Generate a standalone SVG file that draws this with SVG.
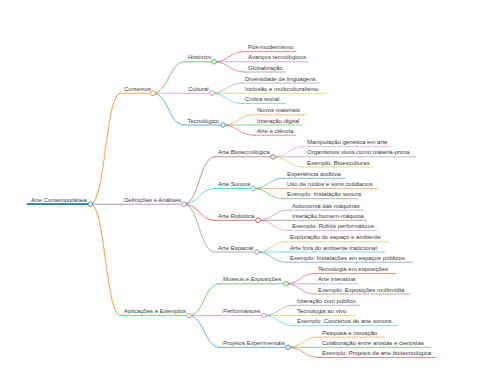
<svg xmlns="http://www.w3.org/2000/svg" width="480" height="384" viewBox="0 0 480 384">
<style>
text{font-family:"Liberation Sans",Arial,sans-serif;font-size:6px;fill:#3a3a3a}
path,line{fill:none;stroke-linecap:round;stroke-opacity:0.7}
.d0{stroke-width:1.8;stroke-opacity:1}.d1{stroke-width:1.1}.d2{stroke-width:0.9}.d3{stroke-width:0.75}
circle{fill:#fff;stroke-width:0.9;stroke-opacity:0.85}
.c0{stroke:#1f77b4}.c1{stroke:#ff7f0e}.c2{stroke:#2ca02c}.c3{stroke:#d62728}.c4{stroke:#9467bd}
.c5{stroke:#8c564b}.c6{stroke:#e377c2}.c7{stroke:#7f7f7f}.c8{stroke:#bcbd22}.c9{stroke:#17becf}
</style>
<rect width="480" height="384" fill="#fff"/>
<g id="connectors">
<path class="d1 c1" d="M90.5,204.2 C105.5,204.2 105.5,93.3 120.5,93.3"/>
<path class="d1 c4" d="M90.5,204.2 L120.5,204.2"/>
<path class="d1 c1" d="M90.5,204.2 C105.5,204.2 105.5,315.5 120.5,315.5"/>
<path class="d2 c2" d="M153,93.3 C168.75,93.3 168.75,61.8 184.5,61.8"/>
<path class="d2 c6" d="M153,93.3 L184.5,93.3"/>
<path class="d2 c0" d="M153,93.3 C168.5,93.3 168.5,125 184,125"/>
<path class="d2 c5" d="M184,204.2 C199.25,204.2 199.25,156.8 214.5,156.8"/>
<path class="d2 c9" d="M184,204.2 C199.25,204.2 199.25,188.5 214.5,188.5"/>
<path class="d2 c3" d="M184,204.2 C199.25,204.2 199.25,220.3 214.5,220.3"/>
<path class="d2 c7" d="M184,204.2 C199.25,204.2 199.25,252 214.5,252"/>
<path class="d2 c2" d="M189,315.5 C204.25,315.5 204.25,283.8 219.5,283.8"/>
<path class="d2 c6" d="M189,315.5 L219.5,315.5"/>
<path class="d2 c0" d="M189,315.5 C204.25,315.5 204.25,347.3 219.5,347.3"/>
<path class="d3 c3" d="M214,61.8 C229.25,61.8 229.25,51.6 244.5,51.6"/>
<path class="d3 c4" d="M214,61.8 L244.5,61.8"/>
<path class="d3 c5" d="M214,61.8 C229.25,61.8 229.25,72 244.5,72"/>
<path class="d3 c7" d="M212,93.3 C226.75,93.3 226.75,83.1 241.5,83.1"/>
<path class="d3 c8" d="M212,93.3 L241.5,93.3"/>
<path class="d3 c9" d="M212,93.3 C226.75,93.3 226.75,103.5 241.5,103.5"/>
<path class="d3 c1" d="M223,125 C238.25,125 238.25,114.8 253.5,114.8"/>
<path class="d3 c2" d="M223,125 L253.5,125"/>
<path class="d3 c3" d="M223,125 C238.25,125 238.25,135.2 253.5,135.2"/>
<path class="d3 c6" d="M273,156.8 C288.25,156.8 288.25,146.6 303.5,146.6"/>
<path class="d3 c7" d="M273,156.8 L303.5,156.8"/>
<path class="d3 c8" d="M273,156.8 C288.25,156.8 288.25,167 303.5,167"/>
<path class="d3 c0" d="M253,188.5 C268.25,188.5 268.25,178.3 283.5,178.3"/>
<path class="d3 c1" d="M253,188.5 L283.5,188.5"/>
<path class="d3 c2" d="M253,188.5 C268.25,188.5 268.25,198.7 283.5,198.7"/>
<path class="d3 c4" d="M258,220.3 C273.25,220.3 273.25,210.1 288.5,210.1"/>
<path class="d3 c5" d="M258,220.3 L288.5,220.3"/>
<path class="d3 c6" d="M258,220.3 C273.25,220.3 273.25,230.5 288.5,230.5"/>
<path class="d3 c8" d="M257,252 C271.75,252 271.75,241.8 286.5,241.8"/>
<path class="d3 c9" d="M257,252 L286.5,252"/>
<path class="d3 c0" d="M257,252 C271.75,252 271.75,262.2 286.5,262.2"/>
<path class="d3 c3" d="M286,283.8 C300.25,283.8 300.25,273.6 314.5,273.6"/>
<path class="d3 c4" d="M286,283.8 L314.5,283.8"/>
<path class="d3 c5" d="M286,283.8 C300.25,283.8 300.25,294 314.5,294"/>
<path class="d3 c7" d="M264,315.5 C278.75,315.5 278.75,305.3 293.5,305.3"/>
<path class="d3 c8" d="M264,315.5 L293.5,315.5"/>
<path class="d3 c9" d="M264,315.5 C278.75,315.5 278.75,325.7 293.5,325.7"/>
<path class="d3 c1" d="M288,347.3 C303.25,347.3 303.25,337.1 318.5,337.1"/>
<path class="d3 c2" d="M288,347.3 L318.5,347.3"/>
<path class="d3 c3" d="M288,347.3 C303.25,347.3 303.25,357.5 318.5,357.5"/>
</g>
<g id="node-root"><line class="d0 c0" x1="27.5" y1="204.2" x2="90.5" y2="204.2"/><text x="31" y="201.7">Arte Contemporânea</text><circle class="c0" cx="90.5" cy="204.2" r="2.3"/></g>
<g id="node-contextos"><line class="d1 c1" x1="120.5" y1="93.3" x2="153" y2="93.3"/><text x="124" y="90.8">Contextos</text><circle class="c1" cx="153" cy="93.3" r="2.3"/></g>
<g id="node-definicoes"><line class="d1 c4" x1="120.5" y1="204.2" x2="184" y2="204.2"/><text x="124" y="201.7">Definições e Análises</text><circle class="c4" cx="184" cy="204.2" r="2.3"/></g>
<g id="node-aplicacoes"><line class="d1 c1" x1="120.5" y1="315.5" x2="189" y2="315.5"/><text x="124" y="313">Aplicações e Exemplos</text><circle class="c1" cx="189" cy="315.5" r="2.3"/></g>
<g id="node-historico"><line class="d2 c2" x1="184.5" y1="61.8" x2="214" y2="61.8"/><text x="188" y="59.3">Histórico</text><circle class="c2" cx="214" cy="61.8" r="2.3"/></g>
<g id="node-cultural"><line class="d2 c6" x1="184.5" y1="93.3" x2="212" y2="93.3"/><text x="188" y="90.8">Cultural</text><circle class="c6" cx="212" cy="93.3" r="2.3"/></g>
<g id="node-tecnologico"><line class="d2 c0" x1="184" y1="125" x2="223" y2="125"/><text x="187.5" y="122.5">Tecnológico</text><circle class="c0" cx="223" cy="125" r="2.3"/></g>
<g id="node-biotec"><line class="d2 c5" x1="214.5" y1="156.8" x2="273" y2="156.8"/><text x="218" y="154.3">Arte Biotecnológica</text><circle class="c5" cx="273" cy="156.8" r="2.3"/></g>
<g id="node-sonora"><line class="d2 c9" x1="214.5" y1="188.5" x2="253" y2="188.5"/><text x="218" y="186">Arte Sonora</text><circle class="c9" cx="253" cy="188.5" r="2.3"/></g>
<g id="node-robotica"><line class="d2 c3" x1="214.5" y1="220.3" x2="258" y2="220.3"/><text x="218" y="217.8">Arte Robótica</text><circle class="c3" cx="258" cy="220.3" r="2.3"/></g>
<g id="node-espacial"><line class="d2 c7" x1="214.5" y1="252" x2="257" y2="252"/><text x="218" y="249.5">Arte Espacial</text><circle class="c7" cx="257" cy="252" r="2.3"/></g>
<g id="node-museus"><line class="d2 c2" x1="219.5" y1="283.8" x2="286" y2="283.8"/><text x="223" y="281.3">Museus e Exposições</text><circle class="c2" cx="286" cy="283.8" r="2.3"/></g>
<g id="node-performances"><line class="d2 c6" x1="219.5" y1="315.5" x2="264" y2="315.5"/><text x="223" y="313">Performances</text><circle class="c6" cx="264" cy="315.5" r="2.3"/></g>
<g id="node-projetos"><line class="d2 c0" x1="219.5" y1="347.3" x2="288" y2="347.3"/><text x="223" y="344.8">Projetos Experimentais</text><circle class="c0" cx="288" cy="347.3" r="2.3"/></g>
<g id="leaf-1"><line class="d3 c3" x1="244.5" y1="51.6" x2="296" y2="51.6"/><text x="248" y="49.1">Pós-modernismo</text></g>
<g id="leaf-2"><line class="d3 c4" x1="244.5" y1="61.8" x2="308" y2="61.8"/><text x="248" y="59.3">Avanços tecnológicos</text></g>
<g id="leaf-3"><line class="d3 c5" x1="244.5" y1="72" x2="285" y2="72"/><text x="248" y="69.5">Globalização</text></g>
<g id="leaf-4"><line class="d3 c7" x1="241.5" y1="83.1" x2="320" y2="83.1"/><text x="245" y="80.6">Diversidade de linguagens</text></g>
<g id="leaf-5"><line class="d3 c8" x1="241.5" y1="93.3" x2="326" y2="93.3"/><text x="245" y="90.8">Inclusão e multiculturalismo</text></g>
<g id="leaf-6"><line class="d3 c9" x1="241.5" y1="103.5" x2="286" y2="103.5"/><text x="245" y="101">Crítica social</text></g>
<g id="leaf-7"><line class="d3 c1" x1="253.5" y1="114.8" x2="306" y2="114.8"/><text x="257" y="112.3">Novos materiais</text></g>
<g id="leaf-8"><line class="d3 c2" x1="253.5" y1="125" x2="302" y2="125"/><text x="257" y="122.5">Interação digital</text></g>
<g id="leaf-9"><line class="d3 c3" x1="253.5" y1="135.2" x2="296" y2="135.2"/><text x="257" y="132.7">Arte e ciência</text></g>
<g id="leaf-10"><line class="d3 c6" x1="303.5" y1="146.6" x2="391" y2="146.6"/><text x="307" y="144.1">Manipulação genética em arte</text></g>
<g id="leaf-11"><line class="d3 c7" x1="303.5" y1="156.8" x2="416" y2="156.8"/><text x="307" y="154.3">Organismos vivos como matéria-prima</text></g>
<g id="leaf-12"><line class="d3 c8" x1="303.5" y1="167" x2="373" y2="167"/><text x="307" y="164.5">Exemplo: Bioesculturas</text></g>
<g id="leaf-13"><line class="d3 c0" x1="283.5" y1="178.3" x2="345" y2="178.3"/><text x="287" y="175.8">Experiência auditiva</text></g>
<g id="leaf-14"><line class="d3 c1" x1="283.5" y1="188.5" x2="378" y2="188.5"/><text x="287" y="186">Uso de ruídos e sons cotidianos</text></g>
<g id="leaf-15"><line class="d3 c2" x1="283.5" y1="198.7" x2="358" y2="198.7"/><text x="287" y="196.2">Exemplo: Instalação sonora</text></g>
<g id="leaf-16"><line class="d3 c4" x1="288.5" y1="210.1" x2="363" y2="210.1"/><text x="292" y="207.6">Autonomia das máquinas</text></g>
<g id="leaf-17"><line class="d3 c5" x1="288.5" y1="220.3" x2="366" y2="220.3"/><text x="292" y="217.8">Interação homem-máquina</text></g>
<g id="leaf-18"><line class="d3 c6" x1="288.5" y1="230.5" x2="377" y2="230.5"/><text x="292" y="228">Exemplo: Robôs performáticos</text></g>
<g id="leaf-19"><line class="d3 c8" x1="286.5" y1="241.8" x2="389" y2="241.8"/><text x="290" y="239.3">Exploração do espaço e ambiente</text></g>
<g id="leaf-20"><line class="d3 c9" x1="286.5" y1="252" x2="385" y2="252"/><text x="290" y="249.5">Arte fora do ambiente tradicional</text></g>
<g id="leaf-21"><line class="d3 c0" x1="286.5" y1="262.2" x2="413" y2="262.2"/><text x="290" y="259.7">Exemplo: Instalações em espaços públicos</text></g>
<g id="leaf-22"><line class="d3 c3" x1="314.5" y1="273.6" x2="396" y2="273.6"/><text x="318" y="271.1">Tecnologia em exposições</text></g>
<g id="leaf-23"><line class="d3 c4" x1="314.5" y1="283.8" x2="358" y2="283.8"/><text x="318" y="281.3">Arte interativa</text></g>
<g id="leaf-24"><line class="d3 c5" x1="314.5" y1="294" x2="410" y2="294"/><text x="318" y="291.5">Exemplo: Exposições multimídia</text></g>
<g id="leaf-25"><line class="d3 c7" x1="293.5" y1="305.3" x2="360" y2="305.3"/><text x="297" y="302.8">Interação com público</text></g>
<g id="leaf-26"><line class="d3 c8" x1="293.5" y1="315.5" x2="355" y2="315.5"/><text x="297" y="313">Tecnologia ao vivo</text></g>
<g id="leaf-27"><line class="d3 c9" x1="293.5" y1="325.7" x2="398" y2="325.7"/><text x="297" y="323.2">Exemplo: Concertos de arte sonora</text></g>
<g id="leaf-28"><line class="d3 c1" x1="318.5" y1="337.1" x2="385" y2="337.1"/><text x="322" y="334.6">Pesquisa e inovação</text></g>
<g id="leaf-29"><line class="d3 c2" x1="318.5" y1="347.3" x2="431" y2="347.3"/><text x="322" y="344.8">Colaboração entre artistas e cientistas</text></g>
<g id="leaf-30"><line class="d3 c3" x1="318.5" y1="357.5" x2="436" y2="357.5"/><text x="322" y="355">Exemplo: Projetos de arte biotecnológica</text></g>
</svg>
